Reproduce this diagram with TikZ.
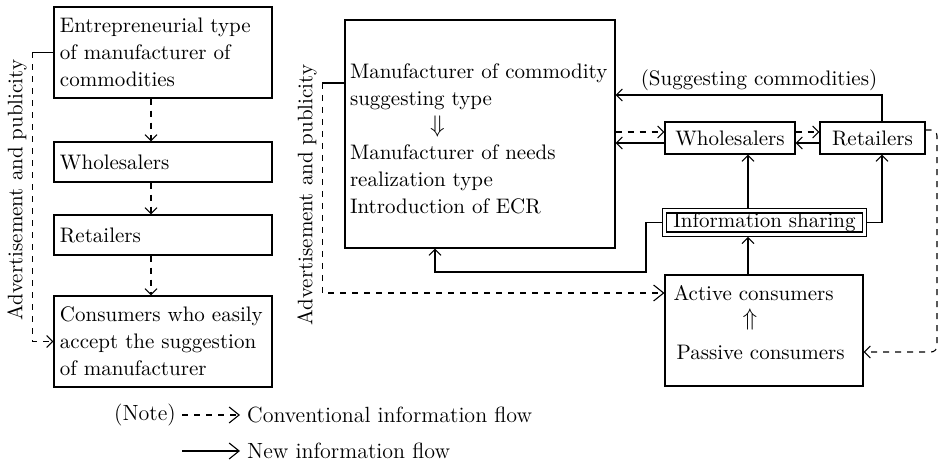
\documentclass[tikz,border=0pt]{standalone}
\usetikzlibrary{arrows.meta,calc}
\begin{document}
\begin{tikzpicture}[x=0.5pt, y=-0.5pt, line width=0.55pt,
    every node/.style={font=\fontsize{10.5}{13.5}\selectfont},
    lbox/.style={draw, text width=103pt, inner xsep=3pt, align=left},
    rbox/.style={draw, minimum height=16pt, inner sep=1pt},
    tip/.style={-{Straight Barb[length=3pt,width=6pt]}},
    bigtip/.style={-{Straight Barb[length=5pt,width=8pt]}},
    conv/.style={dashed}]
    \useasboundingbox (0,0) rectangle (938,475);

    \node[lbox, minimum height=45.5pt] (ent) at (163,52.5) {Entrepreneurial type\\ of manufacturer of\\ commodities};
    \node[lbox, minimum height=20pt] (whl) at (163,162) {Wholesalers};
    \node[lbox, minimum height=20pt] (rtl) at (163,235) {Retailers};
    \node[lbox, minimum height=45.5pt] (con) at (163,341.5) {Consumers who easily\\ accept the suggestion\\ of manufacturer};
    \node[rotate=90] (adl) at (17,190) {Advertisement and publicity};

    \draw[conv, tip] ([xshift=-6pt]ent.south) -- ([xshift=-6pt]whl.north);
    \draw[conv, tip] ([xshift=-6pt]whl.south) -- ([xshift=-6pt]rtl.north);
    \draw[conv, tip] ([xshift=-6pt]rtl.south) -- ([xshift=-6pt]con.north);
    \draw (ent.west) -- ++(-10.5pt,0pt) coordinate (adv1);
    \draw[conv, tip] (adv1) |- (con.west);

    \node[draw, text width=130pt, inner xsep=2.5pt, align=left, minimum height=114pt] (mfr) at (480,134) {\rule{0pt}{12pt}Manufacturer of commodity\\ suggesting type\\ \hspace*{40pt}{\large$\Downarrow$}\\ Manufacturer of needs\\ realization type\\ Introduction of ECR};
    \node[rotate=90] (adr) at (307,195) {Advertisement and publicity};
    \node (sug) at (759,80) {(Suggesting commodities)};
    \node[rbox, minimum width=65pt] (whr) at (730,138) {Wholesalers};
    \node[rbox, minimum width=52.5pt] (rtr) at (872.5,138) {Retailers};
    \node[draw, double, double distance=1.5pt, minimum width=100pt, minimum height=10.2pt, inner sep=1pt] (info) at (764.5,222.5) {Information sharing};
    \node[draw, minimum width=99pt, minimum height=55.5pt] (act) at (764,330.5) {};
    \node[anchor=west, inner sep=0pt] (actv) at (673,293) {Active consumers};
    \node (upar) at (750,320) {\large$\Uparrow$};
    \node[anchor=west, inner sep=0pt] (pasv) at (676,352) {Passive consumers};

    \coordinate (mid) at (748,0);
    \coordinate (rup) at (882,0);
    \coordinate (turn) at (646,272);
    \coordinate (back) at (435,0);
    \coordinate (edge) at (937,0);

    \draw ([yshift=25.5pt]mfr.west) -- ++(-11pt,0pt) coordinate (adv2);
    \draw[conv, bigtip] (adv2) |- (act.west |- actv.west);
    \draw[tip] (rtr.north -| rup) |- ([yshift=19.5pt]mfr.east);
    \draw[conv, tip] ($(mfr.east |- whr.west)+(0pt,3pt)$) -- ([yshift=3pt]whr.west);
    \draw[tip] ([yshift=-2.5pt]whr.west) -- ($(mfr.east |- whr.west)+(0pt,-2.5pt)$);
    \draw[conv, tip] ([yshift=3pt]whr.east) -- ([yshift=3pt]rtr.west);
    \draw[tip] ([yshift=-2.5pt]rtr.west) -- ([yshift=-2.5pt]whr.east);
    \draw[tip, shorten <=1.1pt] (info.north -| mid) -- (whr.south -| mid);
    \draw[tip, shorten >=1.1pt] (act.north -| mid) -- (info.south -| mid);
    \draw[tip, shorten <=1.1pt] (info.east) -| (rtr.south -| rup);
    \draw[tip, shorten <=1.1pt] (info.west) -| (turn) -| (mfr.south -| back);
    \draw[conv, tip, rounded corners=3pt] ([yshift=4pt]rtr.east) -| (edge |- pasv) -- (act.east |- pasv);

    \begin{scope}[every node/.style={font=\fontsize{11}{14}\selectfont}]
    \node (note) at (145,415) {(Note)};
    \coordinate (c1) at (182,415);
    \node[anchor=west] (ltxt1) at (240,415) {Conventional information flow};
    \draw[conv, bigtip] (c1) -- (ltxt1.west);
    \coordinate (c2) at (182,451);
    \node[anchor=west] (ltxt2) at (240,451) {New information flow};
    \draw[bigtip] (c2) -- (ltxt2.west);
    \end{scope}
\end{tikzpicture}
\end{document}
